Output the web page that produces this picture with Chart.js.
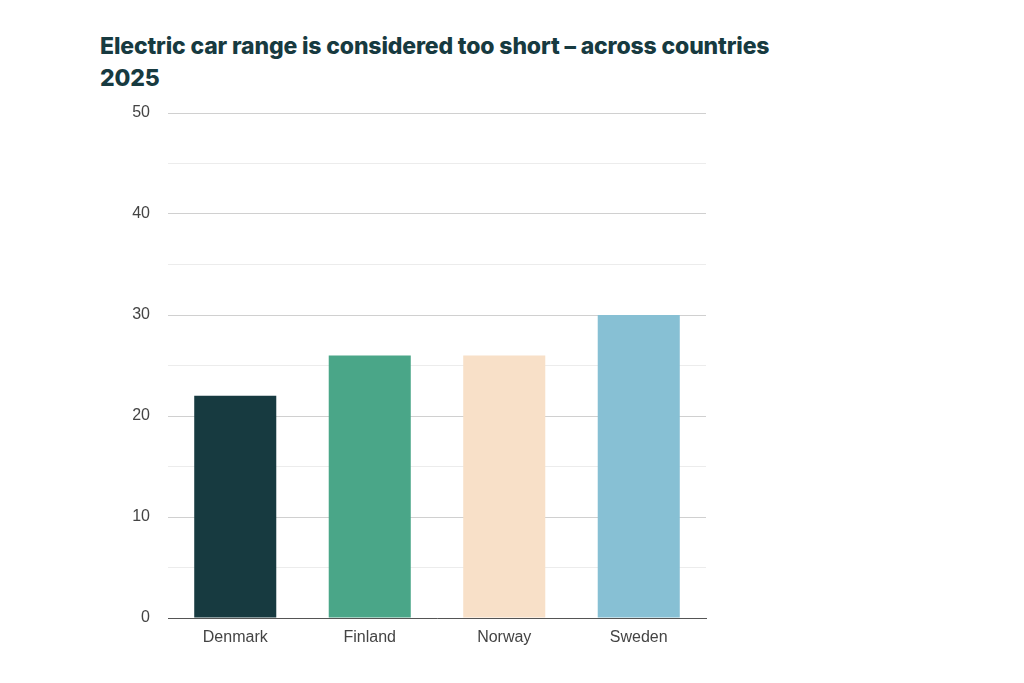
<!DOCTYPE html>
<html>
<head>
<meta charset="utf-8">
<script src="https://cdn.jsdelivr.net/npm/chart.js@4.4.0/dist/chart.umd.min.js"></script>
<style>
  html, body { margin: 0; padding: 0; background: #fff; }
  #wrap { position: relative; width: 1024px; height: 683px; }
  #title {
    position: absolute; left: 100px; top: 30px;
    font-family: Inter, "Noto Sans", sans-serif; font-weight: 800;
    font-size: 23px; line-height: 32px; color: #173a40; letter-spacing: -0.15px;
  }
  canvas { position: absolute; left: 0; top: 0; }
</style>
</head>
<body>
<div id="wrap">
  <div id="title">Electric car range is considered too short – across countries<br>2025</div>
  <canvas id="mainChart" width="1024" height="683"></canvas>
</div>
<script>
// --- Data ---
const countries = ['Denmark', 'Finland', 'Norway', 'Sweden'];
const shareTooShort = [22, 26, 26, 30];
const barColors = ['#173a40', '#4aa688', '#f8e0c8', '#87c0d4'];
const yMax = 50;
const yStep = 5;

(function () {
  const ctx = document.getElementById('mainChart').getContext('2d');
  new Chart(ctx, {
    type: 'bar',
    data: {
      labels: countries,
      datasets: [{
        data: shareTooShort,
        backgroundColor: barColors,
        borderWidth: 0,
        barPercentage: 0.61,
        categoryPercentage: 1
      }]
    },
    options: {
      responsive: false,
      animation: false,
      layout: { padding: { left: 100, right: 318, top: 113, bottom: 0 } },
      plugins: { legend: { display: false }, tooltip: { enabled: false } },
      scales: {
        x: {
          grid: { display: false },
          border: { display: true, color: '#555', width: 1 },
          ticks: { color: '#444', font: { family: 'Liberation Sans', size: 16 }, padding: 2 },
          afterFit: s => { s.height = 65; }
        },
        y: {
          min: 0, max: yMax,
          border: { display: false },
          grid: {
            color: c => (c.tick && c.tick.value % 10 === 0) ? '#d0d0d0' : '#ececec',
            lineWidth: 1,
            drawTicks: false
          },
          ticks: {
            stepSize: yStep,
            color: '#444',
            font: { family: 'Liberation Sans', size: 16 },
            padding: 18,
            callback: v => (v % 10 === 0 ? v : '')
          },
          afterFit: s => { s.width = 68; }
        }
      }
    }
  });
})();
</script>
</body>
</html>
